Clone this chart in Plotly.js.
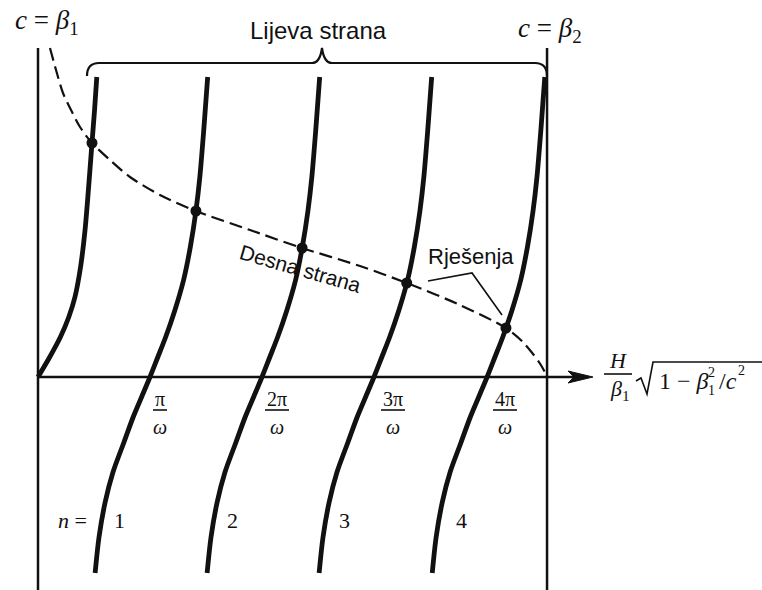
<!DOCTYPE html>
<html>
<head>
<meta charset="utf-8">
<script src="https://cdn.plot.ly/plotly-3.0.1.min.js"></script>
<style>
  html, body { margin: 0; padding: 0; background: #ffffff; }
  #chart { width: 762px; height: 590px; }
</style>
</head>
<body>
<div id="chart"></div>
<script>
// Graphical solution of the Love-wave period equation.
// x is measured in units of pi/omega, y in the units of both sides of the equation.

// Left-hand side: tangent-like branches
const branch0X = [0, 0.105, 0.200, 0.275, 0.330, 0.380, 0.420, 0.450, 0.482, 0.505, 0.525];
const branch0Y = [0, 0.20, 0.40, 0.60, 0.80, 1.10, 1.47, 1.87, 2.34, 2.67, 3.00];

const branchY = [-1.96, -1.60, -1.25, -0.95, -0.66, -0.40, -0.20, 0, 0.20, 0.40, 0.66, 0.97, 1.30, 1.66, 2.00, 2.47, 3.00];
const branch1X = [0.510, 0.545, 0.600, 0.670, 0.765, 0.850, 0.925, 1.000, 1.070, 1.140, 1.220, 1.300, 1.360, 1.410, 1.445, 1.480, 1.515];
const branch2X = [1.510, 1.545, 1.600, 1.670, 1.765, 1.850, 1.925, 2.000, 2.070, 2.140, 2.220, 2.300, 2.360, 2.410, 2.445, 2.480, 2.515];
const branch3X = [2.510, 2.545, 2.600, 2.670, 2.765, 2.850, 2.925, 3.000, 3.070, 3.140, 3.220, 3.300, 3.360, 3.410, 3.445, 3.480, 3.515];
const branch4X = [3.520, 3.555, 3.610, 3.680, 3.775, 3.860, 3.935, 4.010, 4.080, 4.150, 4.230, 4.310, 4.370, 4.420, 4.455, 4.490, 4.525];

// Right-hand side (dashed)
const rightX = [0.107, 0.161, 0.223, 0.304, 0.375, 0.482, 0.643, 0.821, 1.089, 1.410, 1.893, 2.358, 2.875, 3.292, 3.768, 4.178, 4.320, 4.420, 4.490, 4.530];
const rightY = [3.29, 3.07, 2.84, 2.65, 2.50, 2.34, 2.17, 2.00, 1.82, 1.66, 1.47, 1.29, 1.11, 0.94, 0.72, 0.49, 0.36, 0.23, 0.12, 0.04];

// Intersections (the solutions)
const solX = [0.482, 1.410, 2.358, 3.292, 4.178];
const solY = [2.34, 1.66, 1.29, 0.94, 0.49];

// Axis marks
const tickValues = [1, 2, 3, 4];
const tickNumerators = ['π', '2π', '3π', '4π'];
const modeNumbers = ['1', '2', '3', '4'];
const limitLeft = 0;        // c = beta_1
const limitRight = 4.545;   // c = beta_2
const axisEnd = 4.955;

// Page geometry: 112 px per pi/omega, 100 px per y unit, origin at (38, 377)
const SX = 112, SY = 100, OX = 38, OY = 377;
const X = px => (px - OX) / SX;
const Y = py => (OY - py) / SY;

const INK = '#111111';
const serif = 'Liberation Serif, Times New Roman, serif';
const sans = 'Liberation Sans, Arial, sans-serif';

const branches = [
  [branch0X, branch0Y], [branch1X, branchY], [branch2X, branchY],
  [branch3X, branchY], [branch4X, branchY]
];

const traces = [];
branches.forEach(([bx, by]) => {
  traces.push({
    x: bx, y: by, type: 'scatter', mode: 'lines',
    line: { color: INK, width: 4.8, shape: 'spline', smoothing: 0.8 },
    hoverinfo: 'skip'
  });
});
traces.push({
  x: rightX, y: rightY, type: 'scatter', mode: 'lines',
  line: { color: INK, width: 2.2, dash: '13px,6px', shape: 'spline', smoothing: 0.8 },
  hoverinfo: 'skip'
});
// horizontal axis and the two limiting verticals
traces.push({
  x: [limitLeft, axisEnd - 0.15], y: [0, 0], type: 'scatter', mode: 'lines',
  line: { color: INK, width: 2.5 }, hoverinfo: 'skip'
});
traces.push({
  x: [limitLeft, limitLeft], y: [Y(48), Y(600)], type: 'scatter', mode: 'lines',
  line: { color: INK, width: 2.5 }, hoverinfo: 'skip'
});
traces.push({
  x: [limitRight, limitRight], y: [Y(48), Y(600)], type: 'scatter', mode: 'lines',
  line: { color: INK, width: 2.5 }, hoverinfo: 'skip'
});
traces.push({
  x: solX, y: solY, type: 'scatter', mode: 'markers',
  marker: { color: INK, size: 11 }, hoverinfo: 'skip'
});

const shapes = [];
// arrowhead on the horizontal axis
shapes.push({
  type: 'path', xref: 'x', yref: 'y',
  path: `M ${axisEnd},0 L ${X(568)},${Y(371)} L ${X(574)},0 L ${X(568)},${Y(383)} Z`,
  fillcolor: INK, line: { color: INK, width: 1 }
});
// brace over the left-hand-side branches
shapes.push({
  type: 'path', xref: 'x', yref: 'y',
  path: `M ${X(87)},${Y(76)} Q ${X(87)},${Y(63)} ${X(99)},${Y(63)} ` +
        `L ${X(312)},${Y(63)} Q ${X(320)},${Y(63)} ${X(322)},${Y(48)} ` +
        `Q ${X(324)},${Y(63)} ${X(332)},${Y(63)} ` +
        `L ${X(535)},${Y(63)} Q ${X(547)},${Y(63)} ${X(547)},${Y(76)}`,
  line: { color: INK, width: 2.2 }
});
// pointer lines from the "Rješenja" label
shapes.push({
  type: 'path', xref: 'x', yref: 'y',
  path: `M ${X(428)},${Y(281)} L ${X(472)},${Y(273)} L ${X(502)},${Y(315)}`,
  line: { color: INK, width: 1.6 }
});
// radical sign with overline in the axis label
shapes.push({
  type: 'path', xref: 'x', yref: 'y',
  path: `M ${X(636)},${Y(381)} L ${X(641)},${Y(378)} L ${X(647)},${Y(394)} L ${X(653)},${Y(362)} L ${X(762)},${Y(362)}`,
  line: { color: INK, width: 1.6 }
});
// fraction bar H / beta_1
shapes.push({
  type: 'line', xref: 'x', yref: 'y',
  x0: X(604), x1: X(632), y0: Y(374), y1: Y(374),
  line: { color: INK, width: 1.6 }
});

const annotations = [];
const txt = (px, py, text, size, family, extra) => Object.assign({
  xref: 'x', yref: 'y', x: X(px), y: Y(py), text: text, showarrow: false,
  font: { family: family, size: size, color: INK },
  xanchor: 'center', yanchor: 'middle'
}, extra || {});

annotations.push(txt(47, 22, '<i>c</i> = <i>β</i><sub>1</sub>', 27, serif));
annotations.push(txt(550, 30, '<i>c</i> = <i>β</i><sub>2</sub>', 27, serif));
annotations.push(txt(318, 30, 'Lijeva strana', 24, sans));
annotations.push(txt(300, 268, 'Desna strana', 21, sans, { textangle: 16 }));
annotations.push(txt(471, 256, 'Rješenja', 22, sans));

// tick labels: k*pi / omega, set just right of each crossing
const tickShift = [10, 15, 19, 19];
tickValues.forEach((v, i) => {
  const cx = v + tickShift[i] / SX;
  annotations.push({
    xref: 'x', yref: 'y', x: cx, y: Y(399), text: tickNumerators[i], showarrow: false,
    font: { family: serif, size: 20, color: INK }, xanchor: 'center', yanchor: 'middle'
  });
  annotations.push({
    xref: 'x', yref: 'y', x: cx, y: Y(427), text: '<i>ω</i>', showarrow: false,
    font: { family: serif, size: 20, color: INK }, xanchor: 'center', yanchor: 'middle'
  });
  const half = (tickNumerators[i].length > 1 ? 12 : 7) / SX;
  shapes.push({
    type: 'line', xref: 'x', yref: 'y', x0: cx - half, x1: cx + half,
    y0: Y(410), y1: Y(410), line: { color: INK, width: 1.6 }
  });
});

// mode numbers along the lower parts of the branches
const modeLabelPx = [119, 232, 344, 461];
annotations.push(txt(72, 520, '<i>n</i> =', 22, serif));
modeNumbers.forEach((m, i) => annotations.push(txt(modeLabelPx[i], 520, m, 22, serif)));

// horizontal axis label: (H / beta_1) * sqrt(1 - beta_1^2 / c^2)
annotations.push(txt(618, 360, '<i>H</i>', 22, serif));
annotations.push(txt(620, 390, '<i>β</i><sub>1</sub>', 22, serif));
annotations.push(txt(657, 381, '1 − <i>β</i>', 24, serif, { xanchor: 'left' }));
annotations.push(txt(711, 372, '2', 14, serif));
annotations.push(txt(711, 390, '1', 14, serif));
annotations.push(txt(717, 381, '/<i>c</i>', 24, serif, { xanchor: 'left' }));
annotations.push(txt(741, 370, '2', 14, serif));

const layout = {
  width: 762, height: 590,
  margin: { l: 0, r: 0, t: 0, b: 0 },
  paper_bgcolor: '#ffffff', plot_bgcolor: '#ffffff',
  showlegend: false,
  xaxis: { range: [X(0), X(762)], visible: false, fixedrange: true },
  yaxis: { range: [Y(590), Y(0)], visible: false, fixedrange: true },
  shapes: shapes,
  annotations: annotations
};

Plotly.newPlot('chart', traces, layout, { displayModeBar: false, staticPlot: true });
</script>
</body>
</html>
